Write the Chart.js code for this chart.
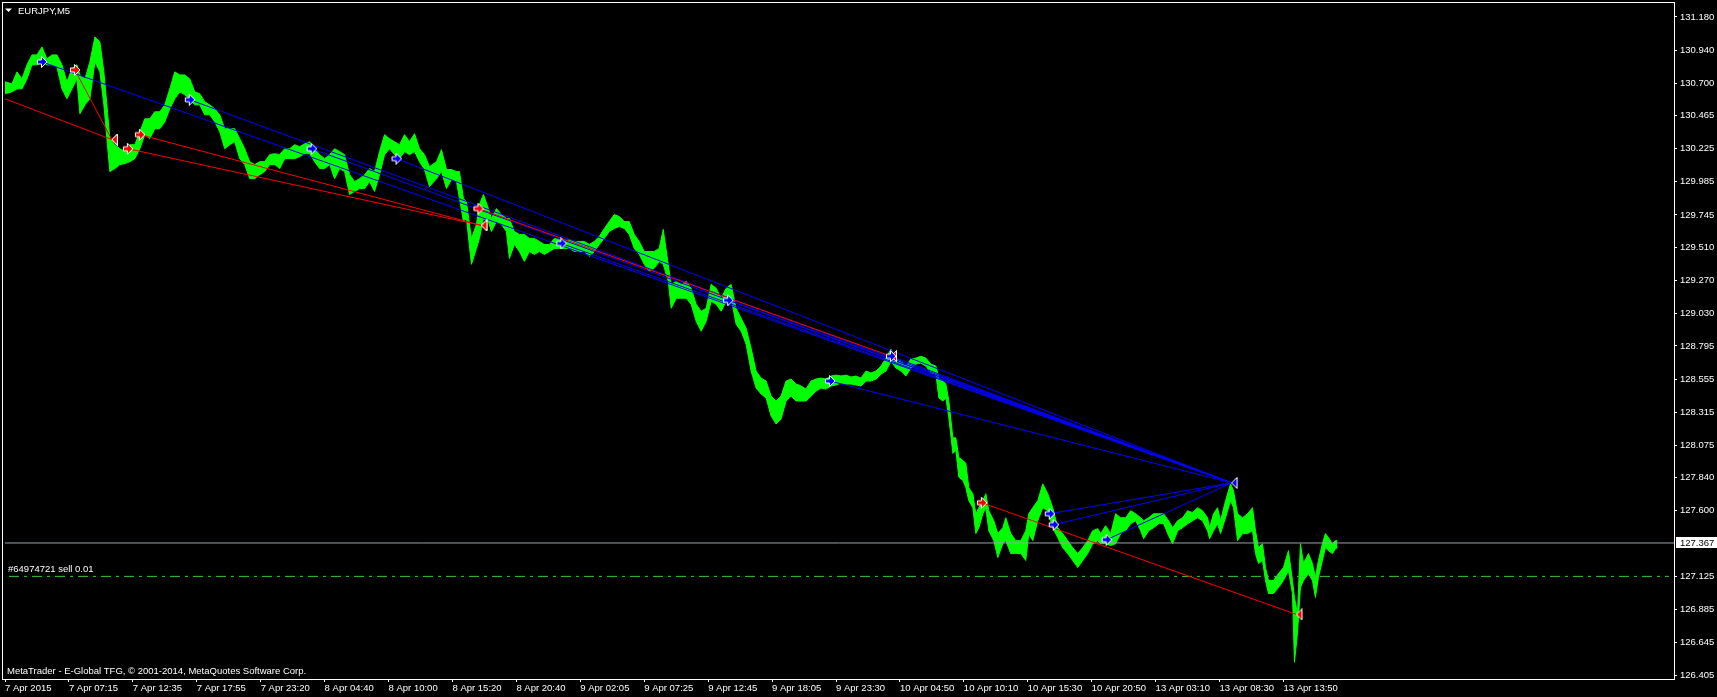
<!DOCTYPE html>
<html>
<head>
<meta charset="utf-8">
<title>EURJPY,M5</title>
<script src="https://cdn.jsdelivr.net/npm/chart.js@4.4.1/dist/chart.umd.min.js"></script>
<style>
  html, body { margin: 0; padding: 0; background: #000; }
  canvas { display: block; background: #000; }
</style>
</head>
<body>
<canvas id="chart" width="1717" height="697"></canvas>
<script>
// M5 bars counted from the left edge of the window, with high / low
const barIndex = [
  0, 7, 12, 17, 22, 27, 32, 37, 42, 47,
  52, 57, 62, 67, 72, 75, 80, 85, 90, 95,
  99, 102, 105, 110, 115, 120, 125, 130, 135, 140,
  145, 150, 155, 160, 165, 170, 175, 180, 185, 190,
  195, 200, 205, 210, 215, 220, 225, 230, 235, 240,
  245, 250, 255, 260, 265, 270, 275, 280, 285, 290,
  295, 300, 305, 310, 315, 320, 325, 330, 335, 340,
  345, 350, 355, 360, 365, 370, 375, 380, 385, 390,
  395, 400, 405, 410, 415, 420, 425, 432, 437, 442,
  447, 452, 455, 459, 462, 467, 472, 475, 479, 484,
  487, 492, 497, 502, 505, 510, 515, 520, 525, 530,
  535, 540, 545, 550, 555, 560, 565, 570, 575, 580,
  585, 590, 595, 600, 605, 610, 615, 620, 625, 630,
  635, 640, 645, 650, 655, 659, 664, 667, 672, 677,
  682, 687, 692, 697, 702, 707, 712, 717, 722, 727,
  732, 737, 742, 747, 752, 757, 762, 767, 772, 777,
  782, 787, 792, 797, 802, 807, 812, 817, 822, 827,
  832, 837, 842, 847, 852, 857, 862, 867, 872, 877,
  882, 887, 892, 897, 902, 907, 912, 917, 922, 927,
  932, 935, 939, 942, 945, 949, 952, 955, 959, 962,
  965, 969, 972, 975, 979, 982, 985, 990, 994, 999,
  1002, 1007, 1012, 1017, 1022, 1025, 1029, 1034, 1039, 1044,
  1049, 1054, 1059, 1064, 1069, 1074, 1079, 1084, 1089, 1094,
  1097, 1102, 1107, 1112, 1117, 1122, 1127, 1132, 1137, 1140,
  1145, 1150, 1155, 1160, 1165, 1169, 1174, 1179, 1184, 1189,
  1194, 1199, 1204, 1206, 1210, 1214, 1217, 1222, 1227, 1230,
  1234, 1239, 1244, 1249, 1252, 1255, 1259, 1262, 1265, 1270,
  1275, 1280, 1285, 1289, 1291, 1294, 1297, 1300, 1305, 1309,
  1312, 1315, 1319, 1322, 1325, 1329, 1332, 1334
];

const highs = [
  130.710, 130.695, 130.782, 130.731, 130.833, 130.905, 130.905, 130.963, 130.876, 130.905,
  130.905, 130.833, 130.710, 130.804, 130.833, 130.760, 130.731, 130.854, 131.035, 130.999,
  130.782, 130.543, 130.298, 130.254, 130.225, 130.204, 130.254, 130.254, 130.348, 130.442,
  130.442, 130.493, 130.493, 130.543, 130.659, 130.782, 130.760, 130.760, 130.731, 130.637,
  130.623, 130.565, 130.543, 130.514, 130.471, 130.370, 130.370, 130.370, 130.298, 130.225,
  130.131, 130.110, 130.131, 130.131, 130.182, 130.189, 130.182, 130.225, 130.225, 130.254,
  130.240, 130.261, 130.276, 130.225, 130.182, 130.153, 130.182, 130.225, 130.204, 130.182,
  130.037, 129.987, 130.008, 130.037, 130.081, 130.059, 130.204, 130.327, 130.298, 130.276,
  130.254, 130.327, 130.276, 130.334, 130.225, 130.182, 130.095, 130.131, 130.218, 130.074,
  130.074, 130.059, 130.059, 129.864, 129.842, 129.575, 129.676, 129.820, 129.893, 129.791,
  129.719, 129.791, 129.748, 129.719, 129.719, 129.625, 129.604, 129.604, 129.575, 129.575,
  129.553, 129.531, 129.531, 129.575, 129.567, 129.553, 129.567, 129.553, 129.553, 129.553,
  129.531, 129.553, 129.589, 129.647, 129.697, 129.748, 129.734, 129.697, 129.697, 129.604,
  129.553, 129.480, 129.480, 129.480, 129.502, 129.640, 129.387, 129.242, 129.264, 129.242,
  129.264, 129.213, 129.097, 129.047, 129.068, 129.242, 129.213, 129.141, 129.213, 129.242,
  129.068, 128.996, 128.924, 128.779, 128.613, 128.562, 128.541, 128.432, 128.396, 128.432,
  128.541, 128.555, 128.519, 128.505, 128.483, 128.541, 128.555, 128.562, 128.555, 128.577,
  128.584, 128.577, 128.584, 128.570, 128.577, 128.562, 128.613, 128.599, 128.613, 128.649,
  128.707, 128.772, 128.700, 128.685, 128.649, 128.700, 128.707, 128.721, 128.707, 128.664,
  128.649, 128.562, 128.541, 128.519, 128.396, 128.129, 128.129, 127.987, 127.966, 127.944,
  127.767, 127.724, 127.579, 127.623, 127.673, 127.724, 127.601, 127.528, 127.435, 127.478,
  127.550, 127.435, 127.384, 127.384, 127.456, 127.579, 127.623, 127.673, 127.796, 127.724,
  127.623, 127.478, 127.435, 127.384, 127.333, 127.290, 127.333, 127.384, 127.456, 127.471,
  127.435, 127.492, 127.435, 127.579, 127.550, 127.550, 127.601, 127.579, 127.550, 127.528,
  127.550, 127.579, 127.579, 127.579, 127.528, 127.478, 127.528, 127.550, 127.601, 127.587,
  127.623, 127.601, 127.550, 127.478, 127.579, 127.623, 127.528, 127.673, 127.796, 127.745,
  127.579, 127.550, 127.579, 127.623, 127.456, 127.333, 127.362, 127.189, 127.095, 127.095,
  127.145, 127.189, 127.312, 127.095, 126.972, 126.856, 127.362, 127.218, 127.290, 127.218,
  127.117, 127.240, 127.362, 127.435, 127.406, 127.362, 127.384, 127.384
];

const lows = [
  130.623, 130.637, 130.659, 130.659, 130.731, 130.833, 130.833, 130.854, 130.833, 130.833,
  130.818, 130.659, 130.587, 130.659, 130.731, 130.478, 130.543, 130.587, 130.854, 130.782,
  130.543, 130.298, 130.059, 130.081, 130.110, 130.117, 130.131, 130.153, 130.225, 130.327,
  130.298, 130.370, 130.370, 130.420, 130.514, 130.587, 130.637, 130.616, 130.587, 130.543,
  130.543, 130.471, 130.471, 130.420, 130.348, 130.225, 130.254, 130.276, 130.153, 130.110,
  130.008, 130.008, 130.037, 130.059, 130.110, 130.110, 130.081, 130.153, 130.153, 130.153,
  130.167, 130.189, 130.189, 130.131, 130.081, 130.081, 130.110, 130.008, 130.081, 130.059,
  129.893, 129.915, 129.936, 129.936, 129.987, 129.915, 130.037, 130.182, 130.225, 130.182,
  130.153, 130.204, 130.182, 130.204, 130.131, 130.074, 129.951, 130.008, 130.059, 129.936,
  130.001, 129.987, 129.864, 129.697, 129.719, 129.387, 129.502, 129.575, 129.719, 129.697,
  129.625, 129.697, 129.676, 129.625, 129.430, 129.531, 129.480, 129.408, 129.480, 129.459,
  129.480, 129.459, 129.480, 129.502, 129.502, 129.502, 129.502, 129.480, 129.480, 129.480,
  129.444, 129.480, 129.531, 129.575, 129.625, 129.647, 129.661, 129.647, 129.604, 129.502,
  129.459, 129.387, 129.336, 129.358, 129.408, 129.387, 129.264, 129.068, 129.141, 129.141,
  129.141, 129.097, 128.974, 128.902, 128.974, 129.119, 129.097, 129.047, 129.119, 129.141,
  128.953, 128.902, 128.808, 128.613, 128.490, 128.447, 128.418, 128.288, 128.230, 128.266,
  128.396, 128.432, 128.396, 128.396, 128.396, 128.432, 128.468, 128.490, 128.483, 128.505,
  128.512, 128.526, 128.519, 128.519, 128.512, 128.505, 128.541, 128.541, 128.555, 128.591,
  128.613, 128.685, 128.635, 128.613, 128.577, 128.635, 128.664, 128.671, 128.649, 128.599,
  128.591, 128.418, 128.396, 128.418, 128.273, 128.016, 128.038, 127.843, 127.822, 127.767,
  127.673, 127.623, 127.435, 127.478, 127.579, 127.623, 127.456, 127.384, 127.261, 127.362,
  127.384, 127.290, 127.290, 127.290, 127.240, 127.435, 127.384, 127.528, 127.623, 127.601,
  127.478, 127.406, 127.333, 127.290, 127.240, 127.189, 127.240, 127.290, 127.362, 127.384,
  127.362, 127.362, 127.348, 127.362, 127.435, 127.456, 127.507, 127.528, 127.456, 127.398,
  127.456, 127.478, 127.507, 127.507, 127.420, 127.362, 127.456, 127.478, 127.507, 127.528,
  127.550, 127.528, 127.456, 127.398, 127.456, 127.507, 127.435, 127.550, 127.673, 127.623,
  127.384, 127.435, 127.435, 127.456, 127.290, 127.218, 127.240, 127.095, 127.001, 127.001,
  127.044, 127.095, 127.167, 127.001, 126.502, 126.711, 127.044, 127.095, 127.145, 127.095,
  126.972, 127.117, 127.240, 127.333, 127.312, 127.290, 127.326, 127.333
];

// trade history: buys (blue) all closed at the same bar/price
const buyOpenBar = [37, 185, 307, 392, 557, 724, 826, 887, 1046, 1050, 1103];
const buyOpenPrice = [130.854, 130.580, 130.225, 130.153, 129.538, 129.126, 128.541, 128.721, 127.579, 127.500, 127.391];
const buyCloseBar = [1228, 1228, 1228, 1228, 1228, 1228, 1228, 1228, 1228, 1228, 1228];
const buyClosePrice = [127.803, 127.803, 127.803, 127.803, 127.803, 127.803, 127.803, 127.803, 127.803, 127.803, 127.803];

// sells (red); the first one was opened before the visible window
const sellOpenBar = [0, 70, 123, 135, 474, 978];
const sellOpenPrice = [130.587, 130.796, 130.225, 130.327, 129.791, 127.659];
const sellCloseBar = [107, 107, 477, 477, 887, 1293];
const sellClosePrice = [130.291, 130.291, 129.669, 129.669, 128.721, 126.849];

const bidPrice = 127.367;
const orderPrice = 127.125;
const orderLabel = '#64974721 sell 0.01';

const xTickBars = [0, 64, 128, 192, 256, 320, 384, 448, 512, 576, 640, 704, 768, 832, 896, 960, 1024, 1088, 1152, 1216, 1280];
const xTickLabels = ['7 Apr 2015', '7 Apr 07:15', '7 Apr 12:35', '7 Apr 17:55', '7 Apr 23:20', '8 Apr 04:40', '8 Apr 10:00',
  '8 Apr 15:20', '8 Apr 20:40', '9 Apr 02:05', '9 Apr 07:25', '9 Apr 12:45', '9 Apr 18:05', '9 Apr 23:30',
  '10 Apr 04:50', '10 Apr 10:10', '10 Apr 15:30', '10 Apr 20:50', '13 Apr 03:10', '13 Apr 08:30', '13 Apr 13:50'];
const yTickValues = [131.180, 130.940, 130.700, 130.465, 130.225, 129.985, 129.745, 129.510, 129.270, 129.030,
  128.795, 128.555, 128.315, 128.075, 127.840, 127.600, 127.125, 126.885, 126.645, 126.405];

const FONT_FAMILY = "'Liberation Sans', Arial, sans-serif";
const FONT_SIZE = 9.5;
const tickFont = { family: FONT_FAMILY, size: FONT_SIZE };

// marker pictures for the trade arrows
function arrowMark(fill) {
  const c = document.createElement('canvas');
  c.width = 12; c.height = 12;
  const g = c.getContext('2d');
  g.beginPath();
  g.moveTo(1.5, 4); g.lineTo(5.5, 4); g.lineTo(5.5, 0.5); g.lineTo(11, 6);
  g.lineTo(5.5, 11.5); g.lineTo(5.5, 8); g.lineTo(1.5, 8); g.closePath();
  g.fillStyle = fill; g.fill();
  g.strokeStyle = '#fff'; g.lineWidth = 1; g.stroke();
  return c;
}
function closeMark(fill) {
  const c = document.createElement('canvas');
  c.width = 14; c.height = 12;
  const g = c.getContext('2d');
  g.beginPath();
  g.moveTo(7, 6); g.lineTo(12.5, 0.5); g.lineTo(12.5, 11.5); g.closePath();
  g.fillStyle = fill; g.fill();
  g.strokeStyle = '#fff'; g.lineWidth = 1; g.stroke();
  return c;
}

const tradeLine = (ob, op, cb, cp, color, order) => ({
  data: [{ x: ob, y: op }, { x: cb, y: cp }],
  borderColor: color, borderWidth: 1, pointRadius: 0, fill: false, order
});
const markers = (bars, prices, img) => ({
  data: bars.map((b, k) => ({ x: b, y: prices[k] })).filter(p => p.x > 0),
  showLine: false, pointStyle: img, pointRadius: 5, borderWidth: 0, order: 1
});

const datasets = [
  {
    data: barIndex.map((b, k) => ({ x: b, y: highs[k] })),
    borderColor: '#00ff00', borderWidth: 1, pointRadius: 0, fill: false, order: 10
  },
  {
    data: barIndex.map((b, k) => ({ x: b, y: lows[k] })),
    borderColor: '#00ff00', backgroundColor: '#00ff00', borderWidth: 1, pointRadius: 0, fill: '-1', order: 10
  },
  {
    data: [{ x: 0, y: bidPrice }, { x: 1671, y: bidPrice }],
    borderColor: '#99a2ab', borderWidth: 1, pointRadius: 0, fill: false, order: 8
  },
  {
    data: [{ x: 4, y: orderPrice }, { x: 1666, y: orderPrice }],
    borderColor: '#32cd32', borderWidth: 1, borderDash: [10, 5, 3, 5], pointRadius: 0, fill: false, order: 8
  },
  ...buyOpenBar.map((b, k) => tradeLine(b, buyOpenPrice[k], buyCloseBar[k], buyClosePrice[k], '#0000ff', 6)),
  ...sellOpenBar.map((b, k) => tradeLine(b, sellOpenPrice[k], sellCloseBar[k], sellClosePrice[k], '#ff0000', 5)),
  markers(buyOpenBar, buyOpenPrice, arrowMark('#0000ff')),
  markers(sellOpenBar, sellOpenPrice, arrowMark('#ff0000')),
  markers(buyCloseBar.slice(0, 1), buyClosePrice.slice(0, 1), closeMark('#0000ff')),
  markers(sellCloseBar, sellClosePrice, closeMark('#ff0000'))
];

// frame, captions and the bid price box
const terminalText = {
  id: 'terminalText',
  afterDraw(chart) {
    const { ctx, chartArea: area, scales: { y } } = chart;
    ctx.save();
    ctx.font = FONT_SIZE + 'px ' + FONT_FAMILY;
    ctx.textBaseline = 'middle';
    ctx.fillStyle = '#ffffff';

    ctx.beginPath();
    ctx.moveTo(5, 8.5); ctx.lineTo(12, 8.5); ctx.lineTo(8.5, 12);
    ctx.closePath(); ctx.fill();
    ctx.fillText('EURJPY,M5', 18, 11);

    ctx.fillText(orderLabel, 8, y.getPixelForValue(orderPrice) - 6.5);
    ctx.fillText('MetaTrader - E-Global TFG, \u00a9 2001-2014, MetaQuotes Software Corp.', 7, area.bottom - 8);

    ctx.strokeStyle = '#ffffff';
    ctx.lineWidth = 1;
    ctx.strokeRect(2.5, 2.5, area.right - 2, area.bottom - 2);

    const yb = Math.round(y.getPixelForValue(bidPrice));
    ctx.fillRect(area.right + 2, yb - 6, 43, 11);
    ctx.fillStyle = '#000000';
    ctx.fillText(bidPrice.toFixed(3), area.right + 6, yb);
    ctx.restore();
  }
};

new Chart(document.getElementById('chart'), {
  type: 'line',
  data: { datasets },
  options: {
    responsive: false,
    animation: false,
    events: [],
    layout: { padding: { left: 3, top: 3, right: 0, bottom: 0 } },
    elements: { line: { tension: 0 } },
    plugins: { legend: { display: false }, tooltip: { enabled: false } },
    scales: {
      x: {
        type: 'linear',
        min: 0,
        max: 1671,
        afterBuildTicks: s => { s.ticks = xTickBars.map(v => ({ value: v })); },
        afterFit: s => { s.height = 18; s.paddingLeft = 0; s.paddingRight = 0; },
        ticks: {
          autoSkip: false, maxRotation: 0, align: 'start', padding: 1,
          color: '#ffffff', font: tickFont,
          callback: v => xTickLabels[xTickBars.indexOf(v)]
        },
        grid: { drawOnChartArea: false, drawTicks: true, tickLength: 3, color: '#ffffff' },
        border: { display: false }
      },
      y: {
        type: 'linear',
        position: 'right',
        min: 126.381,
        max: 131.2667,
        afterBuildTicks: s => { s.ticks = yTickValues.map(v => ({ value: v })); },
        afterFit: s => { s.width = 43; s.paddingTop = 0; s.paddingBottom = 0; },
        ticks: {
          autoSkip: false, padding: 3, color: '#ffffff', font: tickFont,
          callback: v => v.toFixed(3)
        },
        grid: { drawOnChartArea: false, drawTicks: true, tickLength: 3, color: '#ffffff' },
        border: { display: false }
      }
    }
  },
  plugins: [terminalText]
});
</script>
</body>
</html>
